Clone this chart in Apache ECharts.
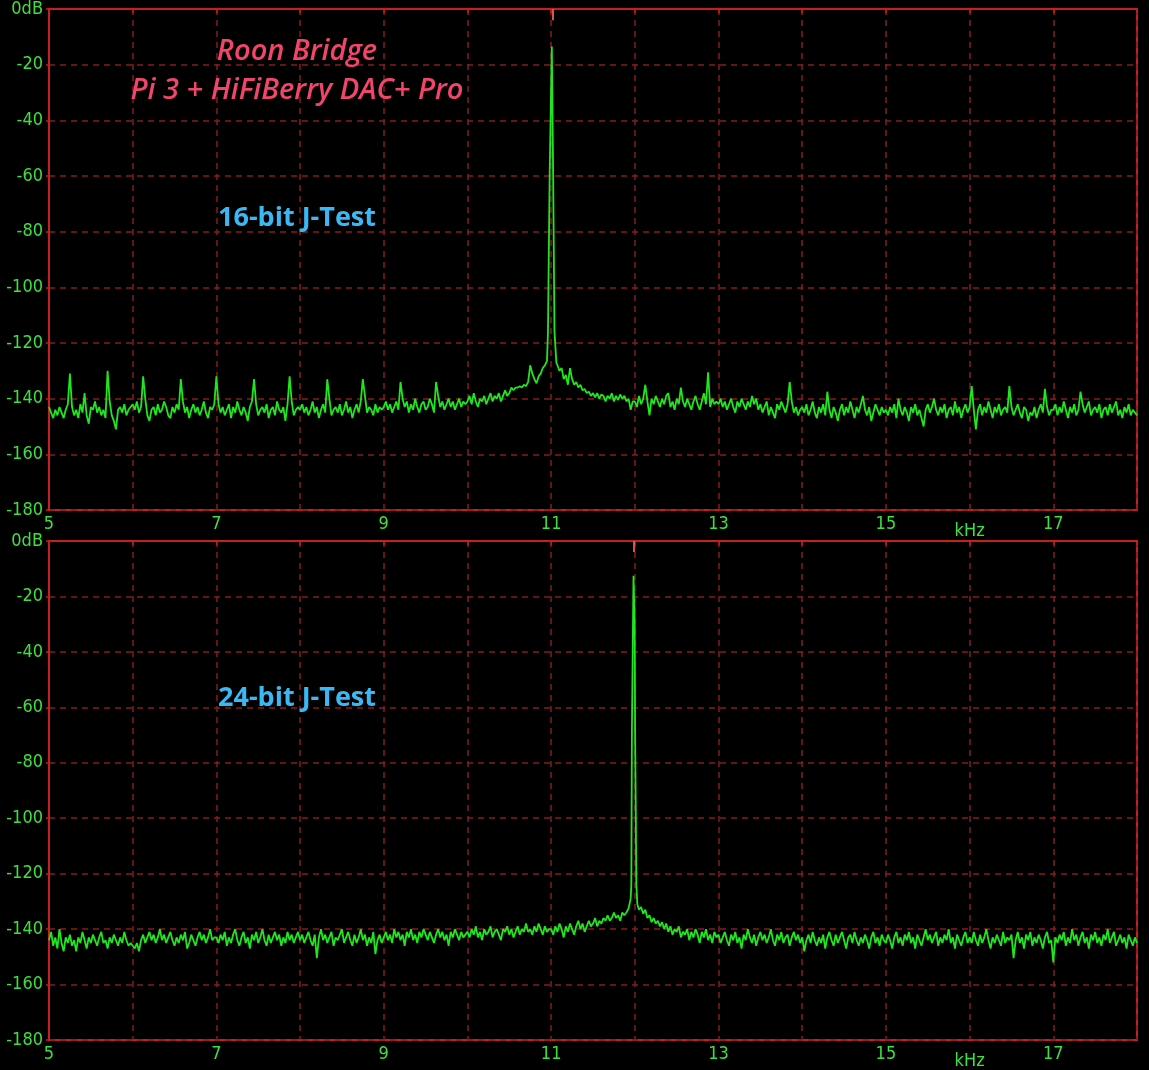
<!DOCTYPE html>
<html><head><meta charset="utf-8">
<script src="https://cdn.jsdelivr.net/npm/echarts@6/dist/echarts.min.js"></script>
<style>html,body{margin:0;padding:0;background:#000;}#c{width:1149px;height:1070px;}</style>
</head><body><div id="c"></div>
<script>
// x grid: 5.000 .. 18.000 kHz in 0.025 kHz steps (null = point replaced by peak detail)
const xMin = 5, xMax = 18, xStep = 0.025;
const xLabelValues = [5, 7, 9, 11, 13, 15, 17];
const yTicks = [0, -20, -40, -60, -80, -100, -120, -140, -160, -180];

const topNoise = [
-143,-145,-147,-144,-146,-143,-145,-147,-144,-142,-131,-143,-146,-144,-147,-142,-145,-138,-146,-149,-143,-144,-141,-145,-143,-146,-144,-147,-130,-141,-146,-148,-151,-144,-143,-145,-142,-146,-144,-143,
-142,-144,-141,-145,-143,-132,-140,-146,-148,-144,-143,-146,-142,-145,-144,-141,-143,-146,-147,-143,-145,-142,-144,-133,-141,-145,-143,-147,-144,-142,-145,-143,-146,-144,-141,-145,-147,-143,-144,-142,
-132,-142,-145,-143,-146,-144,-142,-147,-143,-145,-141,-144,-146,-143,-145,-148,-143,-141,-133,-142,-146,-144,-143,-145,-142,-147,-144,-143,-146,-141,-144,-145,-143,-148,-142,-132,-141,-146,-144,-143,
-144,-142,-145,-143,-146,-144,-141,-145,-143,-147,-144,-142,-145,-133,-140,-146,-144,-143,-145,-142,-146,-144,-141,-145,-143,-147,-144,-142,-145,-141,-133,-139,-145,-143,-144,-146,-142,-145,-143,-144,
-143,-141,-144,-142,-145,-143,-141,-144,-134,-140,-143,-141,-145,-142,-144,-140,-143,-145,-142,-141,-144,-143,-140,-142,-145,-134,-139,-143,-141,-144,-142,-140,-143,-141,-144,-142,-140,-143,-141,-142,
-141,-139,-142,-138,-141,-143,-140,-141,-139,-142,-140,-138,-141,-139,-140,-138,-141,-139,-137,-139,-138,-136,-137,-136,-136,-135.5,-136,-135,-135.5,-134,-128,-131,-133,-134.5,-132,-131,-129,-128,-126.5,null,
null,null,null,-128,-130,-129,-133,-131.5,-135,-129,-133,-135,-134,-136,-135,-137,-136.5,-138,-137.5,-139,-138,-139.5,-138,-140,-138.5,-139,-141,-139,-140,-138,-141,-139,-140.5,-138.5,-140,-139,-141,-140,-144,-141,
-141,-143,-139,-142,-140,-135,-141,-146,-140,-142,-139,-141,-143,-140,-142,-139,-138,-143,-141,-144,-140,-142,-136,-141,-143,-140,-142,-144,-141,-139,-142,-144,-141,-138,-142,-130.5,-143,-140,-142,-141,
-142,-140,-143,-141,-144,-142,-140,-143,-145,-141,-143,-140,-142,-144,-141,-143,-139,-142,-140,-144,-142,-145,-143,-141,-146,-143,-145,-147,-142,-144,-141,-143,-145,-142,-134,-141,-145,-143,-146,-144,
-143,-145,-142,-146,-144,-141,-145,-147,-143,-145,-142,-146,-137.5,-144,-147,-143,-145,-148,-144,-142,-146,-143,-145,-141,-144,-147,-143,-145,-142,-139,-144,-146,-143,-148,-145,-142,-144,-146,-143,-145,
-144,-146,-143,-145,-142,-147,-140,-144,-146,-143,-145,-148,-143,-145,-142,-146,-144,-147,-150,-144,-142,-145,-143,-140,-144,-146,-143,-145,-142,-147,-144,-143,-146,-141,-145,-143,-147,-144,-142,-145,
-143,-135.5,-144,-151,-144,-142,-146,-143,-145,-141,-144,-147,-143,-145,-142,-146,-144,-143,-145,-135.5,-143,-146,-144,-142,-145,-147,-143,-144,-148,-145,-146,-143,-147,-144,-142,-145,-136.5,-143,-146,-144,
-144,-142,-146,-143,-145,-141,-144,-147,-143,-145,-142,-146,-144,-137.5,-142,-145,-143,-141,-146,-144,-143,-145,-142,-147,-144,-143,-146,-142,-145,-143,-141,-146,-144,-147,-143,-145,-142,-146,-144,-145,
-146
];
const topPeakFreq = [10.955, 10.962, 10.975, 10.982, 10.995, 11.008, 11.016, 11.024, 11.035, 11.040, 11.055, 11.062];
const topPeakVal  = [-127, -116, -116, -60, -60, -13.5, -13.5, -60, -60, -116, -116, -127];
const topMarkerFreq = [11.025];

const btmNoise = [
-144,-141,-146,-143,-147,-140,-145,-148,-143,-145,-142,-146,-144,-148,-143,-145,-141,-144,-147,-143,-145,-142,-144,-146,-143,-141,-145,-144,-147,-143,-145,-142,-144,-146,-143,-145,-141,-144,-146,-145,
-146,-147,-145,-148,-144,-142,-145,-143,-141,-144,-142,-145,-143,-140,-144,-142,-145,-143,-141,-144,-146,-143,-145,-142,-144,-141,-147,-145,-142,-144,-146,-143,-141,-144,-142,-145,-143,-140,-144,-143,
-143,-145,-142,-144,-141,-146,-143,-145,-142,-140,-144,-146,-143,-141,-145,-143,-147,-142,-144,-141,-145,-143,-140,-144,-146,-142,-145,-143,-141,-144,-142,-146,-143,-145,-141,-144,-142,-145,-143,-141,
-144,-142,-145,-143,-141,-144,-146,-142,-150.5,-143,-140,-144,-142,-145,-143,-141,-146,-143,-144,-142,-140,-145,-143,-141,-144,-146,-142,-145,-143,-140,-144,-142,-146,-143,-145,-141,-149,-144,-142,-145,
-143,-141,-144,-142,-145,-140,-143,-141,-144,-142,-146,-141,-143,-140,-144,-142,-145,-141,-143,-140,-142,-144,-141,-143,-145,-142,-140,-143,-141,-144,-142,-146,-141,-143,-140,-142,-144,-141,-143,-142,
-141,-143,-140,-142,-139,-143,-141,-144,-140,-142,-141,-139,-143,-141,-140,-142,-144,-140,-141,-139,-142,-140,-143,-141,-139,-142,-140,-141,-138,-141,-140,-142,-139,-141,-138,-140,-142,-139,-141,-140,
-140,-142,-139,-141,-138,-140,-143,-139,-141,-138,-140,-142,-139,-137,-140,-138,-141,-139,-137,-139,-138,-136,-139,-137,-138,-136,-137,-135,-137,-136,-134,-136,-135,-137,-134,-135,-134,-132.5,-129,null,
null,null,-133,-132,-134.5,-133,-136,-135,-137.5,-136,-138,-137,-139,-137.5,-140,-138,-141,-139,-142,-140,-141,-139,-143,-141,-142,-140,-144,-141,-143,-140,-142,-145,-141,-143,-140,-144,-142,-145,-141,-143,
-142,-145,-143,-141,-144,-146,-142,-144,-141,-145,-143,-147,-142,-144,-140,-143,-145,-142,-146,-143,-141,-144,-142,-145,-143,-140,-144,-146,-142,-144,-141,-145,-143,-142,-146,-143,-141,-144,-142,-145,
-143,-148,-144,-142,-145,-141,-144,-146,-143,-145,-142,-147,-143,-141,-144,-146,-142,-145,-143,-141,-144,-147,-143,-142,-145,-141,-144,-146,-143,-145,-142,-144,-147,-143,-141,-145,-143,-146,-142,-144,
-145,-142,-144,-147,-143,-141,-145,-143,-146,-142,-144,-141,-145,-143,-147,-142,-144,-146,-143,-140,-144,-142,-145,-143,-141,-146,-143,-145,-142,-144,-140,-145,-143,-147,-142,-144,-146,-143,-141,-145,
-143,-145,-141,-144,-146,-142,-145,-143,-140,-144,-147,-143,-145,-142,-144,-146,-141,-145,-143,-144,-142,-150.5,-144,-141,-145,-143,-147,-142,-144,-141,-146,-143,-145,-142,-144,-147,-143,-141,-145,-144,
-152,-143,-145,-142,-144,-141,-146,-143,-145,-140,-144,-142,-146,-143,-141,-145,-143,-147,-142,-144,-141,-145,-143,-146,-142,-144,-140,-145,-143,-141,-146,-144,-142,-145,-143,-147,-142,-144,-146,-143,
-145
];
const btmPeakFreq = [11.958, 11.965, 11.975, 11.978, 11.984, 11.992, 11.998, 12.003, 12.012, 12.018, 12.03];
const btmPeakVal  = [-124, -68, -68, -30, -12.5, -12.5, -30, -68, -68, -124, -131];
const btmMarkerFreq = [11.99];

function build(noise, pf, pv) {
  const pts = [];
  noise.forEach((v, i) => { if (v !== null) pts.push([+(xMin + i * xStep).toFixed(3), v]); });
  pf.forEach((f, i) => pts.push([f, pv[i]]));
  pts.sort((a, b) => a[0] - b[0]);
  return pts;
}

const GREEN_TXT = '#3ee03e';
const LINE_GREEN = '#1fe61f';
const BORDER = '#c81e1e';
const GRIDC = '#861c1c';
const labelFont = "'Liberation Sans Narrow','DejaVu Sans Condensed','Liberation Sans',sans-serif";

function xAxisCfg(gi) {
  return {
    type: 'value', gridIndex: gi, min: xMin, max: xMax, interval: 1,
    axisLine: { show: true, lineStyle: { color: BORDER, width: 2 } },
    axisTick: { show: true, length: 4, lineStyle: { color: BORDER, width: 1.5 } },
    splitLine: { show: true, lineStyle: { color: GRIDC, type: [6, 5], width: 1.5 } },
    axisLabel: {
      color: GREEN_TXT, fontFamily: labelFont, fontSize: 18, margin: 5,
      formatter: v => xLabelValues.includes(v) ? String(v) : (v === 16 ? '{k|kHz}' : ''),
      rich: { k: { color: GREEN_TXT, fontFamily: labelFont, fontSize: 18, padding: [7, 0, 0, 0] } }
    }
  };
}
function yAxisCfg(gi) {
  return {
    type: 'value', gridIndex: gi, min: -180, max: 0, interval: 20,
    axisLine: { show: true, lineStyle: { color: BORDER, width: 2 } },
    axisTick: { show: true, length: 3, lineStyle: { color: BORDER, width: 1.5 } },
    splitLine: { show: true, lineStyle: { color: GRIDC, type: [6, 5], width: 1.5 } },
    axisLabel: {
      color: GREEN_TXT, fontFamily: labelFont, fontSize: 18, margin: 6,
      formatter: v => yTicks.includes(v) ? (v === 0 ? '0dB' : String(v)) : ''
    }
  };
}
function seriesCfg(gi, data, marker) {
  return {
    type: 'line', xAxisIndex: gi, yAxisIndex: gi, data: data,
    showSymbol: false, symbol: 'none', animation: false, z: 3,
    lineStyle: { color: LINE_GREEN, width: 1.8 },
    markLine: {
      silent: true, symbol: 'none', animation: false, label: { show: false },
      lineStyle: { color: '#e05050', width: 2, type: 'solid' },
      data: marker.map(f => [{ coord: [f, 0] }, { coord: [f, -4] }])
    }
  };
}

const chart = echarts.init(document.getElementById('c'), null, { renderer: 'canvas' });
chart.setOption({
  backgroundColor: '#000',
  animation: false,
  grid: [
    { left: 49, top: 7, right: 12, height: 503, show: true, borderColor: BORDER, borderWidth: 2, backgroundColor: 'transparent' },
    { left: 49, top: 541, right: 12, height: 502, show: true, borderColor: BORDER, borderWidth: 2, backgroundColor: 'transparent' }
  ],
  xAxis: [xAxisCfg(0), xAxisCfg(1)],
  yAxis: [yAxisCfg(0), yAxisCfg(1)],
  series: [
    seriesCfg(0, build(topNoise, topPeakFreq, topPeakVal), topMarkerFreq),
    seriesCfg(1, build(btmNoise, btmPeakFreq, btmPeakVal), btmMarkerFreq)
  ],
  graphic: [
    { type: 'text', x: 297, y: 52, z: 10, style: { text: 'Roon Bridge', fill: '#f2456b', font: "italic 600 29px 'Open Sans', sans-serif", textAlign: 'center', textVerticalAlign: 'middle' } },
    { type: 'text', x: 297, y: 91, z: 10, style: { text: 'Pi 3 + HiFiBerry DAC+ Pro', fill: '#f2456b', font: "italic 600 29px 'Open Sans', sans-serif", textAlign: 'center', textVerticalAlign: 'middle' } },
    { type: 'text', x: 297, y: 218, z: 10, style: { text: '16-bit J-Test', fill: '#3bb8f3', font: "bold 27px 'Open Sans', sans-serif", textAlign: 'center', textVerticalAlign: 'middle' } },
    { type: 'text', x: 297, y: 698, z: 10, style: { text: '24-bit J-Test', fill: '#3bb8f3', font: "bold 27px 'Open Sans', sans-serif", textAlign: 'center', textVerticalAlign: 'middle' } }
  ]
});
</script>
</body></html>
